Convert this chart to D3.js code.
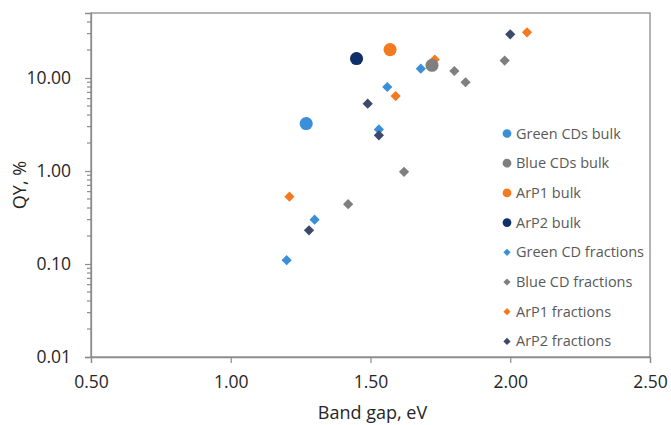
<!DOCTYPE html>
<html>
<head>
<meta charset="utf-8">
<script src="https://cdn.jsdelivr.net/npm/d3@7"></script>
<style>
body{margin:0;background:#fff;}
svg text{font-family:"Open Sans",sans-serif;}
</style>
</head>
<body>
<div id="chart"></div>
<script>
// series: name, shape, colour and [band gap, QY] points
var seriesNames = ['Green CDs bulk','Blue CDs bulk','ArP1 bulk','ArP2 bulk',
  'Green CD fractions','Blue CD fractions','ArP1 fractions','ArP2 fractions'];
var seriesShape = ['circle','circle','circle','circle','diamond','diamond','diamond','diamond'];
var seriesColor = ['#3a8fd9','#7f7f7f','#f47a1f','#0e2f6a','#3a8fd9','#7f7f7f','#f47a1f','#3b4a6b'];

var greenBulk = [[1.27,3.24]];
var blueBulk = [[1.72,13.7]];
var arp1Bulk = [[1.57,20.2]];
var arp2Bulk = [[1.45,16.2]];
var greenFrac = [[1.20,0.11],[1.30,0.30],[1.53,2.8],[1.56,8.0],[1.68,12.6]];
var blueFrac = [[1.42,0.44],[1.62,0.98],[1.80,11.9],[1.84,9.0],[1.98,15.4]];
var arp1Frac = [[1.21,0.53],[1.59,6.4],[1.73,15.8],[2.06,31]];
var arp2Frac = [[1.28,0.23],[1.49,5.3],[1.53,2.42],[2.00,29.5]];
var seriesData = [greenBulk,blueBulk,arp1Bulk,arp2Bulk,greenFrac,blueFrac,arp1Frac,arp2Frac];

var xTicks = [0.5,1.0,1.5,2.0,2.5];
var yTicks = [0.01,0.1,1,10];

const W = 671, H = 425;
const m = {left:91, right:21, top:13, bottom:68};

var svg = d3.select('#chart').append('svg').attr('width',W).attr('height',H);

var x = d3.scaleLinear().domain([0.5,2.5]).range([m.left, W-m.right]);
var y = d3.scaleLog().domain([0.01,50]).range([H-m.bottom, m.top]);

// plot border
svg.append('rect')
  .attr('x',m.left).attr('y',m.top)
  .attr('width',W-m.right-m.left).attr('height',H-m.bottom-m.top)
  .attr('fill','none').attr('stroke','#8c8c8c').attr('stroke-width',1.3);

// minor ticks on the log axis
var minor = [];
[0.01,0.1,1,10].forEach(function(p){
  for (var k=2;k<=9;k++){ if (p*k<50) minor.push(p*k); }
});
svg.append('g').selectAll('line').data(minor).enter().append('line')
  .attr('x1',m.left-4).attr('x2',m.left)
  .attr('y1',d=>y(d)).attr('y2',d=>y(d))
  .attr('stroke','#8c8c8c').attr('stroke-width',1.2);

var yAxis = d3.axisLeft(y).tickValues(yTicks).tickSize(6).tickPadding(14)
  .tickFormat(d3.format('.2f'));
var gy = svg.append('g').attr('transform','translate('+m.left+',0)').call(yAxis);

var xAxis = d3.axisBottom(x).tickValues(xTicks).tickSize(6).tickPadding(13)
  .tickFormat(d3.format('.2f'));
var gx = svg.append('g').attr('transform','translate(0,'+(H-m.bottom)+')').call(xAxis);

[gx,gy].forEach(function(g){
  g.select('.domain').attr('stroke','#8c8c8c').attr('stroke-width',1.3);
  g.selectAll('.tick line').attr('stroke','#8c8c8c').attr('stroke-width',1.2);
  g.selectAll('.tick text').attr('fill','#262626').style('font-size','17.5px');
});

// axis titles
svg.append('text').attr('x',(m.left+W-m.right)/2+2).attr('y',419)
  .attr('text-anchor','middle').attr('fill','#262626').style('font-size','18px')
  .text('Band gap, eV');
svg.append('text')
  .attr('transform','translate(26,'+((m.top+H-m.bottom)/2)+') rotate(-90)')
  .attr('text-anchor','middle').attr('fill','#262626').style('font-size','18px')
  .text('QY, %');

function shapePath(i, small){
  if (seriesShape[i]==='circle') return d3.symbol().type(d3.symbolCircle).size(small?60:135)();
  return d3.symbol().type(d3.symbolSquare).size(small?26:52)();
}

// draw fractions first, bulk on top of them
var order = [4,5,6,7,0,1,2,3];
order.forEach(function(i){
  svg.append('g').selectAll('path').data(seriesData[i]).enter().append('path')
    .attr('d',shapePath(i,false))
    .attr('transform',function(d){
      var t = 'translate('+x(d[0])+','+y(d[1])+')';
      return seriesShape[i]==='diamond' ? t+' rotate(45)' : t;
    })
    .attr('fill',seriesColor[i]);
});

// legend
var leg = svg.append('g').selectAll('g').data(seriesNames).enter().append('g')
  .attr('transform',(d,i)=>'translate(507,'+(133.5+i*29.7)+')');
leg.append('path')
  .attr('d',(d,i)=>shapePath(i,true))
  .attr('transform',(d,i)=>seriesShape[i]==='diamond'?'rotate(45)':null)
  .attr('fill',(d,i)=>seriesColor[i]);
leg.append('text').attr('x',9).attr('dy','0.35em')
  .attr('fill','#595959').style('font-size','14.5px')
  .text(d=>d);
</script>
</body>
</html>
